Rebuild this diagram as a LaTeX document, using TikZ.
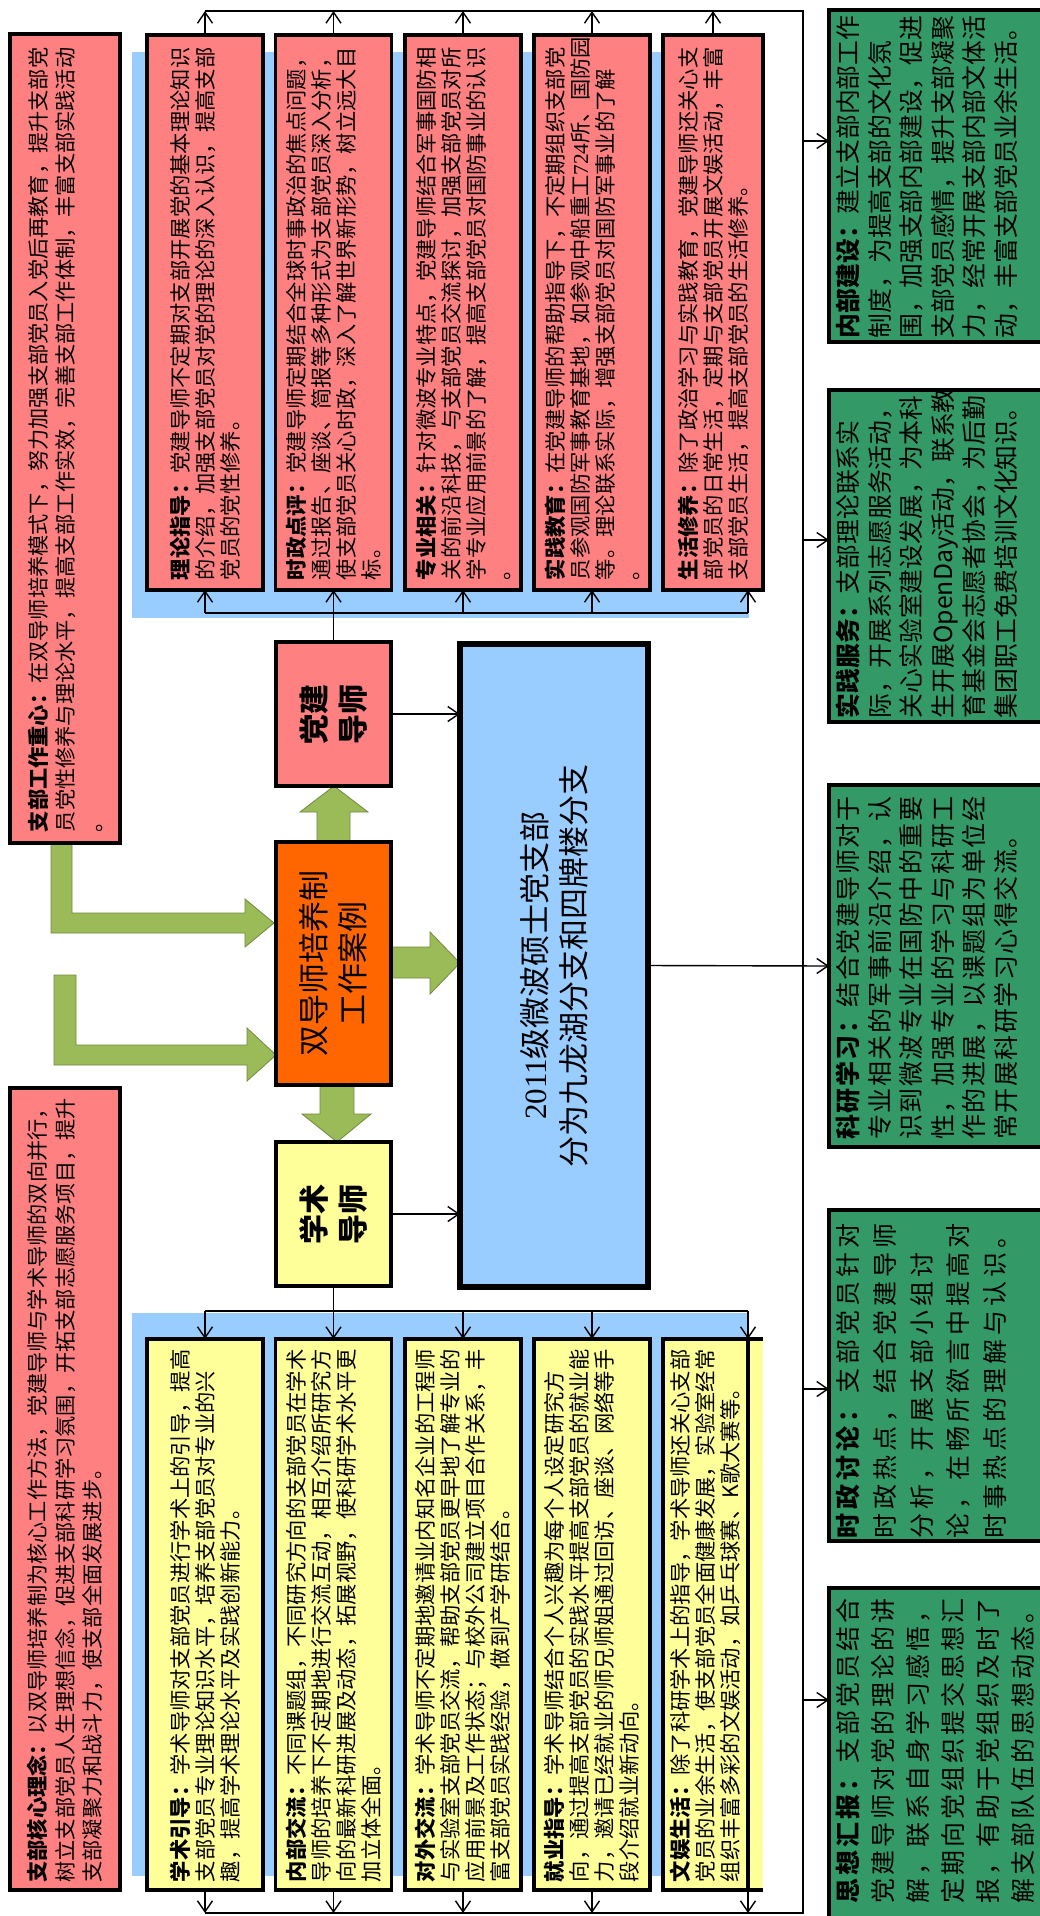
\documentclass[tikz,border=0pt]{standalone}
\usepackage{fontspec}
\setmainfont{Noto Sans CJK SC}
\newfontfamily\serifnum{Liberation Serif}
\usetikzlibrary{arrows.meta}
\definecolor{boxred}{HTML}{FF8080}
\definecolor{boxyel}{HTML}{FFFF99}
\definecolor{boxorg}{HTML}{FF6600}
\definecolor{boxblue}{HTML}{99CCFF}
\definecolor{boxgreen}{HTML}{339966}
\definecolor{arrgreen}{HTML}{9BBB59}
\definecolor{arrgreenedge}{HTML}{71893F}
\begin{document}
\begin{tikzpicture}[x=1pt,y=-1pt,
  ln/.style={line width=1.4pt},
  arr/.style={line width=1.4pt,-{Straight Barb[length=11pt,width=15pt]}},
  garrow/.style={fill=arrgreen,draw=arrgreenedge,line width=0.8pt},
  boxbase/.style={rotate=90,draw=black,line width=3.5pt,inner sep=0pt,outer sep=0pt,align=left},
  sidebox/.style={boxbase,fill=boxred,minimum height=110pt,text width=787pt,font=\fontsize{21.2}{27.5}\selectfont},
  rowred/.style={boxbase,fill=boxred,minimum width=555pt,text width=535pt,font=\fontsize{21.3}{25}\selectfont},
  rowyel/.style={boxbase,fill=boxyel,minimum width=551pt,text width=535pt,font=\fontsize{21.3}{25}\selectfont},
  midbox/.style={boxbase,minimum height=115pt,align=center},
  gbox/.style={boxbase,fill=boxgreen,line width=4pt,minimum height=216pt},
  gtext/.style={rotate=90,inner sep=0pt,align=left,anchor=north}
]
\useasboundingbox (0,0) rectangle (1039,1916);
\fill[white] (0,0) rectangle (1039,1916);

% blue backgrounds
\fill[boxblue] (132,52) rectangle (749,618);
\fill[boxblue] (132,1313) rectangle (749,1876);

% green block arrows
\filldraw[garrow] (51,843) -- (72,843) -- (72,913) -- (245,913) -- (245,899) -- (274,923) -- (245,947) -- (245,933) -- (51,933) -- cycle;
\filldraw[garrow] (54,975) -- (76,975) -- (76,1045) -- (247,1045) -- (247,1028) -- (276,1055) -- (247,1081) -- (247,1065) -- (54,1065) -- cycle;
\filldraw[garrow] (317,842) -- (350,842) -- (350,812) -- (368,812) -- (334,786) -- (300,812) -- (317,812) -- cycle;
\filldraw[garrow] (320,1085) -- (354,1085) -- (354,1114) -- (371,1114) -- (337,1142) -- (302,1114) -- (320,1114) -- cycle;
\filldraw[garrow] (392,947) -- (430,947) -- (430,932) -- (460,963) -- (430,994) -- (430,978) -- (392,978) -- cycle;

% side boxes
\node[sidebox,minimum width=809pt] (A) at (65,438.5) {\textbf{支部工作重心：}在双导师培养模式下，努力加强支部党员入党后再教育，提升支部党\\员党性修养与理论水平，提高支部工作实效，完善支部工作体制，丰富支部实践活动\\。};
\node[sidebox,minimum width=802pt] (B) at (65,1489) {\textbf{支部核心理念：}以双导师培养制为核心工作方法，党建导师与学术导师的双向并行，\\树立支部党员人生理想信念，促进支部科研学习氛围，开拓支部志愿服务项目，提升\\支部凝聚力和战斗力，使支部全面发展进步。};

% top row (red)
\node[rowred,minimum height=116pt] (R1) at (205,312.5) {\textbf{理论指导：}党建导师不定期对支部开展党的基本理论知识\\的介绍，加强支部党员对党的理论的深入认识，提高支部\\党员的党性修养。};
\node[rowred,minimum height=116pt] (R2) at (333.5,312.5) {\textbf{时政点评：}党建导师定期结合全球时事政治的焦点问题，\\通过报告、座谈、简报等多种形式为支部党员深入分析，\\使支部党员关心时政，深入了解世界新形势，树立远大目\\标。};
\node[rowred,minimum height=116pt] (R3) at (463,312.5) {\textbf{专业相关：}针对微波专业特点，党建导师结合军事国防相\\关的前沿科技，与支部党员交流探讨，加强支部党员对所\\学专业应用前景的了解，提高支部党员对国防事业的认识\\。};
\node[rowred,minimum height=116pt] (R4) at (592,312.5) {\textbf{实践教育：}在党建导师的帮助指导下，不定期组织支部党\\员参观国防军事教育基地，如参观中船重工{\serifnum 724}所、国防园\\等。理论联系实际，增强支部党员对国防军事业的了解\\。};
\node[rowred,minimum height=100pt] (R5) at (713,312.5) {\textbf{生活修养：}除了政治学习与实践教育，党建导师还关心支\\部党员的日常生活，定期与支部党员开展文娱活动，丰富\\支部党员生活，提高支部党员的生活修养。};

% bottom row (yellow)
\node[rowyel,minimum height=116pt] (Y1) at (205,1614.5) {\textbf{学术引导：}学术导师对支部党员进行学术上的引导，提高\\支部党员专业理论知识水平，培养支部党员对专业的兴\\趣，提高学术理论水平及实践创新能力。};
\node[rowyel,minimum height=116pt] (Y2) at (333.5,1614.5) {\textbf{内部交流：}不同课题组，不同研究方向的支部党员在学术\\导师的培养下不定期地进行交流互动，相互介绍所研究方\\向的最新科研进展及动态，拓展视野，使科研学术水平更\\加立体全面。};
\node[rowyel,minimum height=116pt] (Y3) at (463,1614.5) {\textbf{对外交流：}学术导师不定期地邀请业内知名企业的工程师\\与实验室支部党员交流，帮助支部党员更早地了解专业的\\应用前景及工作状态；与校外公司建立项目合作关系，丰\\富支部党员实践经验，做到产学研结合。};
\node[rowyel,minimum height=116pt] (Y4) at (592,1614.5) {\textbf{就业指导：}学术导师结合个人兴趣为每个人设定研究方\\向，通过提高支部党员的实践水平提高支部党员的就业能\\力，邀请已经就业的师兄师姐通过回访、座谈、网络等手\\段介绍就业新动向。};
\fill[boxyel] (749,1339) rectangle (763,1890);
\node[rowyel,minimum height=85pt] (Y5) at (705.5,1614.5) {\textbf{文娱生活：}除了科研学术上的指导，学术导师还关心支部\\党员的业余生活，使支部党员全面健康发展，实验室经常\\组织丰富多彩的文娱活动，如乒乓球赛、K歌大赛等。};
\draw[line width=3.5pt] (746,1339) -- (763,1339);
\draw[line width=3.5pt] (746,1890) -- (763,1890);

% middle boxes
\node[midbox,fill=boxred,minimum width=144pt,font=\bfseries\fontsize{30}{39}\selectfont] (P) at (333.5,714) {党建\\导师};
\node[midbox,fill=boxorg,minimum width=243pt,font=\fontsize{31}{39}\selectfont] (O) at (333.5,963.5) {双导师培养制\\工作案例};
\node[midbox,fill=boxyel,minimum width=144pt,font=\bfseries\fontsize{30}{39}\selectfont] (S) at (333.5,1214) {学术\\导师};
\node[boxbase,fill=boxblue,line width=5.5pt,minimum width=643pt,minimum height=188pt,align=center,font=\fontsize{31}{39}\selectfont] (M) at (554,965.5) {{\serifnum 2011}级微波硕士党支部\\分为九龙湖分支和四牌楼分支};

% green boxes
\node[gbox,minimum width=332pt] (G1) at (937,176) {};
\node[gbox,minimum width=332pt] (G2) at (937,556) {};
\node[gbox,minimum width=362pt] (G3) at (937,966) {};
\node[gbox,minimum width=331pt] (G4) at (937,1375.5) {};
\node[gbox,minimum width=342pt] (G5) at (937,1759) {};

\node[gtext,text width=324pt,font=\fontsize{24.8}{31.5}\selectfont] (G1t) at (836,176) {\textbf{内部建设：}建立支部内部工作\\制度，为提高支部的文化氛\\围，加强支部内部建设，促进\\支部党员感情，提升支部凝聚\\力，经常开展支部内部文体活\\动，丰富支部党员业余生活。};
\node[gtext,text width=324pt,font=\fontsize{24.8}{31.5}\selectfont] (G2t) at (836,556) {\textbf{实践服务：}支部理论联系实\\际，开展系列志愿服务活动，\\关心实验室建设发展，为本科\\生开展OpenDay活动，联系教\\育基金会志愿者协会，为后勤\\集团职工免费培训文化知识。};
\node[gtext,text width=347pt,font=\fontsize{25}{31.5}\selectfont\addfontfeatures{LetterSpace=6}] (G3t) at (836,966) {\textbf{科研学习：}结合党建导师对于\\专业相关的军事前沿介绍，认\\识到微波专业在国防中的重要\\性，加强专业的学习与科研工\\作的进展，以课题组为单位经\\常开展科研学习心得交流。};
\node[gtext,text width=322pt,font=\fontsize{25}{36.7}\selectfont\addfontfeatures{LetterSpace=16}] (G4t) at (836,1377) {\textbf{时政讨论：}支部党员针对\\时政热点，结合党建导师\\分析，开展支部小组讨\\论，在畅所欲言中提高对\\时事热点的理解与认识。};
\node[gtext,text width=311pt,font=\fontsize{25}{35}\selectfont\addfontfeatures{LetterSpace=12}] (G5t) at (836,1748) {\textbf{思想汇报：}支部党员结合\\党建导师对党的理论的讲\\解，联系自身学习感悟，\\定期向党组织提交思想汇\\报，有助于党组织及时了\\解支部队伍的思想动态。};

% connector coordinates
\coordinate (T0) at (803,11);
\coordinate (B0) at (803,1913);
\coordinate (ul) at (205,613);
\coordinate (ur) at (748,613);
\coordinate (dl) at (205,1311);
\coordinate (dr) at (748,1311);
\coordinate (v1) at (803,141);
\coordinate (v2) at (803,540);
\coordinate (v4) at (803,1389);
\coordinate (v5) at (803,1700);

% right trunk
\draw[ln] (R1.east |- T0) -- (T0) -- (B0) -- (Y1.west |- B0);
\draw[arr] (M.south) -- (G3.north);
\draw[arr] (v1) -- (v1 -| G1.north);
\draw[arr] (v2) -- (v2 -| G2.north);
\draw[arr] (v4) -- (v4 -| G4.north);
\draw[arr] (v5) -- (v5 -| G5.north);

% top row arrows up to trunk
\foreach \n in {R1,R2,R3,R4,R5} \draw[arr] (\n.east) -- (\n.east |- T0);

% party mentor distribution
\draw[ln] (P.east) -- (P.east |- ul);
\draw[ln] (ul) -- (ur);
\foreach \n in {R1,R2,R3,R4} \draw[arr] (\n.west |- ul) -- (\n.west);
\draw[arr] (ur) -- (ur |- R5.west);

% academic mentor distribution
\draw[ln] (S.west) -- (S.west |- dl);
\draw[ln] (dl) -- (dr);
\foreach \n in {Y1,Y2,Y3,Y4} \draw[arr] (\n.east |- dl) -- (\n.east);
\draw[arr] (dr) -- (dr |- Y5.east);

% bottom row arrows down to trunk
\foreach \n in {Y1,Y2,Y3,Y4} \draw[arr] (\n.west) -- (\n.west |- B0);
\draw[arr] (dr |- Y5.west) -- (dr |- B0);

% mentors to main box
\draw[arr] (P.south) -- (P.south -| M.north);
\draw[arr] (S.south) -- (S.south -| M.north);
\end{tikzpicture}
\end{document}
